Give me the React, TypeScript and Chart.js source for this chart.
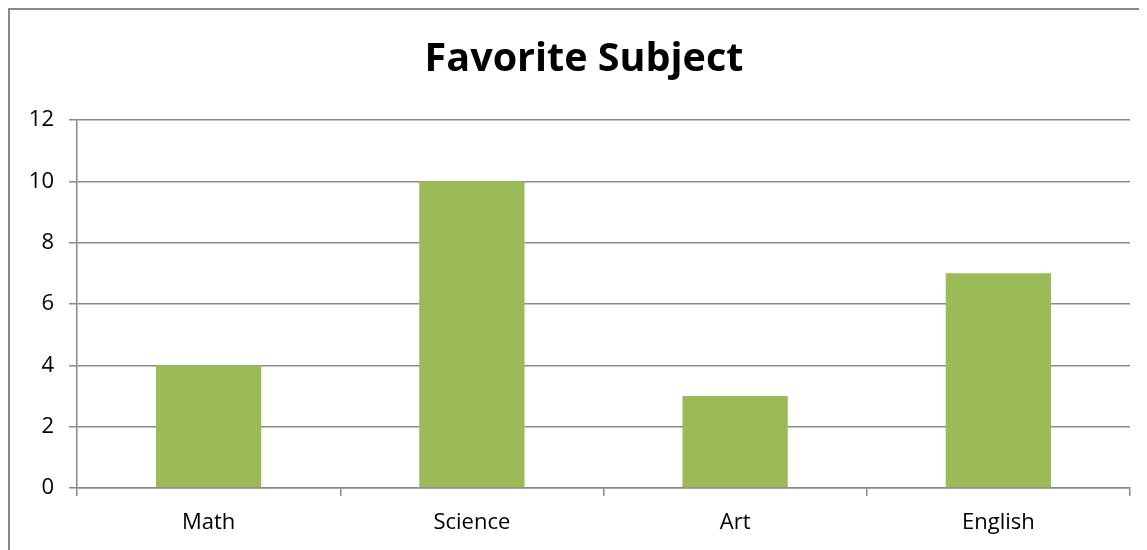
import React, { useEffect, useRef } from "react";
import { Chart, registerables } from "chart.js";

Chart.register(...registerables);

const categories = ["Math", "Science", "Art", "English"];
const values = [4, 10, 3, 7];
const titleText = "Favorite Subject";
const yMin = 0;
const yMax = 12;
const yStep = 2;

const GRID = "#898989";
const BAR = "#9BBB59";

const titleShift = {
  id: "titleShift",
  afterLayout(chart: any) {
    const t = chart.titleBlock;
    if (t) {
      t.left = t.left + 28;
      t.width = t.right - t.left;
    }
  },
};

export default function App() {
  const ref = useRef<HTMLCanvasElement | null>(null);

  useEffect(() => {
    document.body.style.overflow = "hidden";
    document.documentElement.style.overflow = "hidden";
    const canvas = ref.current;
    if (!canvas) return;
    const chart = new Chart(canvas, {
      type: "bar",
      data: {
        labels: categories,
        datasets: [
          {
            data: values,
            backgroundColor: BAR,
            borderWidth: 0,
            categoryPercentage: 1,
            barPercentage: 0.4,
          },
        ],
      },
      plugins: [titleShift],
      options: {
        animation: false,
        responsive: true,
        maintainAspectRatio: false,
        layout: { padding: { left: 0, right: 17, top: 0, bottom: 0 } },
        plugins: {
          legend: { display: false },
          tooltip: { enabled: false },
          title: {
            display: true,
            text: titleText,
            color: "#000",
            font: { family: "Open Sans", size: 39.5, weight: "bold", lineHeight: 1.2 },
            padding: { top: 26, bottom: 36.6 },
          },
        },
        scales: {
          x: {
            grid: {
              display: true,
              drawOnChartArea: false,
              drawTicks: true,
              tickLength: 8,
              color: GRID,
              lineWidth: 1.5,
              offset: true,
            },
            border: { display: true, color: GRID, width: 1.5 },
            ticks: {
              color: "#000",
              font: { family: "Open Sans", size: 22 },
              padding: 14,
            },
            afterFit: (scale: any) => {
              scale.height = 62;
            },
          },
          y: {
            min: yMin,
            max: yMax,
            grid: {
              color: GRID,
              lineWidth: 1.5,
              drawTicks: true,
              tickLength: 8,
            },
            border: { display: true, color: GRID, width: 1.5 },
            ticks: {
              stepSize: yStep,
              color: "#000",
              font: { family: "Open Sans", size: 22 },
              padding: 15,
            },
            afterFit: (scale: any) => {
              scale.width = 67;
            },
          },
        },
      },
    });
    return () => chart.destroy();
  }, []);

  return (
    <div
      style={{
        width: 1160,
        height: 560,
        border: "2px solid #898989",
        boxSizing: "content-box",
        overflow: "hidden",
        background: "#fff",
      }}
    >
      <div style={{ position: "relative", width: 1137, height: 540 }}>
        <canvas ref={ref} />
      </div>
    </div>
  );
}
